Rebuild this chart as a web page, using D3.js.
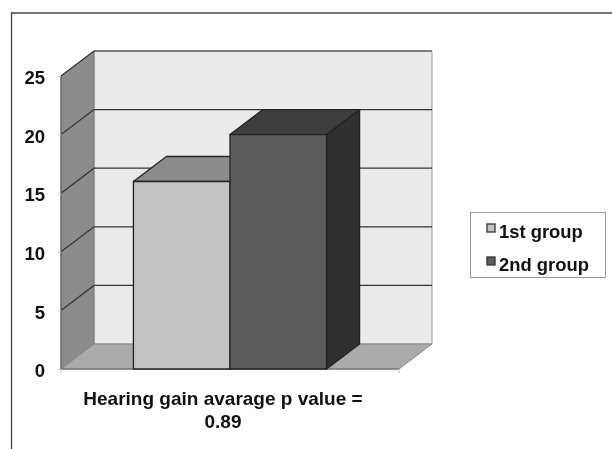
<!DOCTYPE html>
<html>
<head>
<meta charset="utf-8">
<script src="https://cdn.jsdelivr.net/npm/d3@7"></script>
<style>
  html, body { margin: 0; padding: 0; background: #fff; }
  svg { display: block; filter: blur(0.35px); }
  text { font-family: "Liberation Sans", Arial, sans-serif; font-weight: bold; fill: #111; }
</style>
</head>
<body>
<div id="chart"></div>
<script>
const groups = ["1st group", "2nd group"];
const gains = [16, 20];
const yTicks = [0, 5, 10, 15, 20, 25];
const titleLines = ["Hearing gain avarage p value =", "0.89"];

const width = 612, height = 449;
// oblique offset of the 3D box, front plane -> back wall
const dx = 33, dy = -25;
const x0 = 61, x1 = 399, yBase = 369, yTop = 76;

const colors = {
  "1st group": { front: "#c4c4c4", top: "#8c8c8c", side: "#8c8c8c" },
  "2nd group": { front: "#5c5c5c", top: "#3e3e3e", side: "#303030" }
};

const svg = d3.select("#chart").append("svg").attr("width", width).attr("height", height);

const y = d3.scaleLinear().domain([0, 25]).range([yBase, yTop]);
const x = d3.scaleBand().domain(groups).range([x0, x1]).paddingInner(0).paddingOuter(0.75);

const poly = pts => pts.map(p => p.join(",")).join(" ");

// outer frame, open on the right and bottom
svg.append("path").attr("d", "M11.5,449V13H612").attr("fill", "none").attr("stroke", "#444").attr("stroke-width", 1.3);

// walls
const walls = svg.append("g");
walls.append("polygon")
  .attr("points", poly([[x0 + dx, y(25) + dy], [x1 + dx, y(25) + dy], [x1 + dx, y(0) + dy], [x0 + dx, y(0) + dy]]))
  .attr("fill", "#ebebeb").attr("stroke", "#999");
walls.append("polygon")
  .attr("points", poly([[x0, y(25)], [x0 + dx, y(25) + dy], [x0 + dx, y(0) + dy], [x0, y(0)]]))
  .attr("fill", "#8c8c8c").attr("stroke", "#777");
walls.append("polygon")
  .attr("points", poly([[x0, y(0)], [x0 + dx, y(0) + dy], [x1 + dx, y(0) + dy], [x1, y(0)]]))
  .attr("fill", "#ababab").attr("stroke", "#888");

// gridlines on side and back wall
const grid = svg.append("g").attr("fill", "none").attr("stroke", "#333").attr("stroke-width", 1.2);
grid.selectAll("path").data(yTicks.slice(1)).join("path")
  .attr("d", d => `M${x0},${y(d)}L${x0 + dx},${y(d) + dy}H${x1 + dx}`);

// front edges of the axes
svg.append("path").attr("d", `M${x0},${y(25)}V${y(0)}H${x1}`).attr("fill", "none").attr("stroke", "#666").attr("stroke-width", 1.2);

// y axis
const yAxis = svg.append("g").attr("transform", `translate(${x0},0)`)
  .call(d3.axisLeft(y).tickValues(yTicks).tickSize(3).tickPadding(13));
yAxis.select(".domain").remove();
yAxis.selectAll("line").attr("stroke", "#ccc");
yAxis.selectAll("text").attr("font-size", 18.5).attr("fill", "#111").attr("dy", "0.42em");

// x axis end ticks
svg.append("path").attr("d", `M${x1},${y(0)}v4`).attr("stroke", "#bbb").attr("fill", "none");
svg.append("path").attr("d", `M${x0},${y(0)}v4`).attr("stroke", "#ccc").attr("fill", "none");

// bars, drawn left to right so the later one covers the earlier side face
const bars = svg.append("g").selectAll("g").data(groups).join("g")
  .attr("stroke", "#222").attr("stroke-width", 1.3).attr("stroke-linejoin", "round");
bars.each(function(g, i) {
  const b = d3.select(this);
  const l = x(g), r = l + x.bandwidth(), t = y(gains[i]), base = y(0);
  b.append("polygon").attr("fill", colors[g].side)
    .attr("points", poly([[r, t], [r + dx, t + dy], [r + dx, base + dy], [r, base]]));
  b.append("polygon").attr("fill", colors[g].top)
    .attr("points", poly([[l, t], [l + dx, t + dy], [r + dx, t + dy], [r, t]]));
  b.append("rect").attr("x", l).attr("y", t).attr("width", r - l).attr("height", base - t)
    .attr("fill", colors[g].front);
});

// category title
svg.append("g").selectAll("text").data(titleLines).join("text")
  .attr("x", 223).attr("y", (d, i) => 405 + i * 23)
  .attr("text-anchor", "middle").attr("font-size", 19)
  .text(d => d);

// legend
const legend = svg.append("g");
legend.append("rect").attr("x", 470.5).attr("y", 212.5).attr("width", 135).attr("height", 65)
  .attr("fill", "#fff").attr("stroke", "#999");
const items = legend.selectAll("g").data(groups).join("g")
  .attr("transform", (d, i) => `translate(487,${224 + i * 33})`);
items.append("rect").attr("width", 8).attr("height", 8)
  .attr("fill", d => colors[d].front).attr("stroke", "#333").attr("stroke-width", 1.3);
items.append("text").attr("x", 12).attr("y", 14).attr("font-size", 18.4).text(d => d);
</script>
</body>
</html>
